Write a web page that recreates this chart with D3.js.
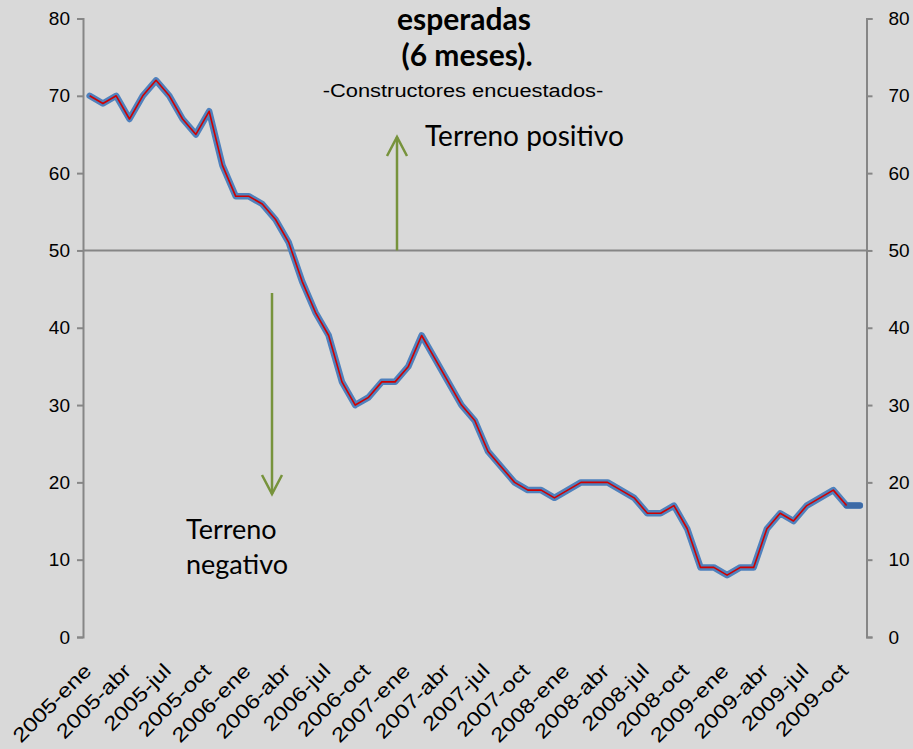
<!DOCTYPE html>
<html>
<head>
<meta charset="utf-8">
<script src="https://cdn.jsdelivr.net/npm/d3@7"></script>
<style>
  html, body { margin: 0; padding: 0; background: #d9d9d9; }
  svg { display: block; }
</style>
</head>
<body>
<svg id="chart" width="913" height="749"></svg>
<script>
// ---------- DATA ----------
const categories = [
  "2005-ene","2005-feb","2005-mar","2005-abr","2005-may","2005-jun","2005-jul","2005-ago","2005-sep","2005-oct","2005-nov","2005-dic",
  "2006-ene","2006-feb","2006-mar","2006-abr","2006-may","2006-jun","2006-jul","2006-ago","2006-sep","2006-oct","2006-nov","2006-dic",
  "2007-ene","2007-feb","2007-mar","2007-abr","2007-may","2007-jun","2007-jul","2007-ago","2007-sep","2007-oct","2007-nov","2007-dic",
  "2008-ene","2008-feb","2008-mar","2008-abr","2008-may","2008-jun","2008-jul","2008-ago","2008-sep","2008-oct","2008-nov","2008-dic",
  "2009-ene","2009-feb","2009-mar","2009-abr","2009-may","2009-jun","2009-jul","2009-ago","2009-sep","2009-oct","2009-nov"
];
// Serie azul (hasta 2009-nov)
const serieAzul = [
  70,69,70,67,70,72,70,67,65,68,61,57,
  57,56,54,51,46,42,39,33,30,31,33,33,
  35,39,36,33,30,28,24,22,20,19,19,18,
  19,20,20,20,19,18,16,16,17,14,9,9,
  8,9,9,14,16,15,17,18,19,17,17
];
// Serie roja (hasta 2009-oct)
const serieRoja = [
  70,69,70,67,70,72,70,67,65,68,61,57,
  57,56,54,51,46,42,39,33,30,31,33,33,
  35,39,36,33,30,28,24,22,20,19,19,18,
  19,20,20,20,19,18,16,16,17,14,9,9,
  8,9,9,14,16,15,17,18,19,17
];
const tickLabels = [
  "2005-ene","2005-abr","2005-jul","2005-oct",
  "2006-ene","2006-abr","2006-jul","2006-oct",
  "2007-ene","2007-abr","2007-jul","2007-oct",
  "2008-ene","2008-abr","2008-jul","2008-oct",
  "2009-ene","2009-abr","2009-jul","2009-oct"
];
const yTicks = [0,10,20,30,40,50,60,70,80];
const referencia = 50;
const titulo = ["esperadas", "(6 meses)."];
const subtitulo = "-Constructores encuestados-";
const anotPositivo = "Terreno positivo";
const anotNegativo = ["Terreno", "negativo"];

// ---------- LAYOUT ----------
const svg = d3.select("#chart");
const mLeft = 83, mRight = 866.5, mTop = 18.5, mBottom = 637;
const axisColor = "#868686";
const green = "#77933c";
const arial = "'Liberation Sans', Arial, sans-serif";

const x = d3.scaleBand().domain(categories).range([mLeft, mRight]).padding(0);
const cx = d => x(d) + x.bandwidth() / 2;
const y = d3.scaleLinear().domain([0, 80]).range([mBottom, mTop]);

// reference line at 50
svg.append("line")
  .attr("x1", mLeft).attr("x2", mRight)
  .attr("y1", y(referencia)).attr("y2", y(referencia))
  .attr("stroke", axisColor).attr("stroke-width", 2);

// left axis
const yl = svg.append("g").attr("transform", `translate(${mLeft},0)`)
  .call(d3.axisLeft(y).tickValues(yTicks).tickSize(6).tickPadding(7));
// right axis
const yr = svg.append("g").attr("transform", `translate(${mRight},0)`)
  .call(d3.axisRight(y).tickValues(yTicks).tickSize(6).tickPadding(16));
[yl, yr].forEach(g => {
  g.select(".domain").attr("stroke", axisColor).attr("stroke-width", 2);
  g.selectAll(".tick line").attr("stroke", axisColor).attr("stroke-width", 2);
  g.selectAll(".tick text")
    .attr("fill", "#000")
    .style("font-family", arial)
    .style("font-size", "19px");
});

// x labels (rotated, slightly stretched along the baseline)
const xl = svg.append("g");
xl.selectAll("text").data(tickLabels).enter().append("text")
  .attr("transform", d => `translate(${cx(d) + 3},${mBottom + 35}) rotate(-45) scale(1.2,1)`)
  .attr("text-anchor", "end")
  .style("font-family", arial)
  .style("font-size", "20px")
  .attr("fill", "#000")
  .text(d => d);

// lines
const lineGen = d3.line()
  .defined(d => d.v != null)
  .x(d => cx(d.c))
  .y(d => y(d.v));
const blueData = categories.map((c, i) => ({c, v: serieAzul[i]}));
const redData = categories.map((c, i) => ({c, v: i < serieRoja.length ? serieRoja[i] : null}));

svg.append("path").datum(blueData)
  .attr("d", lineGen)
  .attr("fill", "none")
  .attr("stroke", "#4f81bd")
  .attr("stroke-width", 6.5)
  .attr("stroke-linejoin", "round")
  .attr("stroke-linecap", "round");
// final blue segment (no red overlay)
svg.append("path").datum(blueData.slice(serieRoja.length - 1))
  .attr("d", lineGen)
  .attr("fill", "none")
  .attr("stroke", "#3d6aa6")
  .attr("stroke-width", 6)
  .attr("stroke-linejoin", "round")
  .attr("stroke-linecap", "round");
svg.append("path").datum(redData)
  .attr("d", lineGen)
  .attr("fill", "none")
  .attr("stroke", "#d00000")
  .attr("stroke-width", 1.6)
  .attr("stroke-linejoin", "round");

// title
const tfont = "Lato, 'Open Sans', sans-serif";
svg.append("text").attr("x", 464).attr("y", 30).attr("text-anchor", "middle")
  .style("font-family", tfont).style("font-weight", "bold").style("font-size", "30px")
  .text(titulo[0]);
svg.append("text").attr("x", 467).attr("y", 66).attr("text-anchor", "middle")
  .style("font-family", tfont).style("font-weight", "bold").style("font-size", "30px")
  .text(titulo[1]);
svg.append("text").attr("transform", "translate(463,97) scale(1.15,1)").attr("text-anchor", "middle")
  .style("font-family", arial).style("font-size", "19px")
  .text(subtitulo);

// annotations
function arrow(x0, y0, y1) {
  const dir = y1 < y0 ? 1 : -1;
  svg.append("line").attr("x1", x0).attr("x2", x0).attr("y1", y0).attr("y2", y1)
    .attr("stroke", green).attr("stroke-width", 2.5);
  svg.append("path")
    .attr("d", `M${x0 - 10},${y1 + dir * 19} L${x0},${y1} L${x0 + 10},${y1 + dir * 19}`)
    .attr("fill", "none").attr("stroke", green).attr("stroke-width", 2.5)
    .attr("stroke-linejoin", "miter");
}
arrow(397, y(referencia), 137);
arrow(272, 293, 494);

svg.append("text").attr("x", 425).attr("y", 146)
  .style("font-family", tfont).style("font-size", "28px").text(anotPositivo);
svg.append("text").attr("x", 186).attr("y", 539)
  .style("font-family", tfont).style("font-size", "27px").text(anotNegativo[0]);
svg.append("text").attr("x", 186).attr("y", 574)
  .style("font-family", tfont).style("font-size", "27px").text(anotNegativo[1]);
</script>
</body>
</html>
